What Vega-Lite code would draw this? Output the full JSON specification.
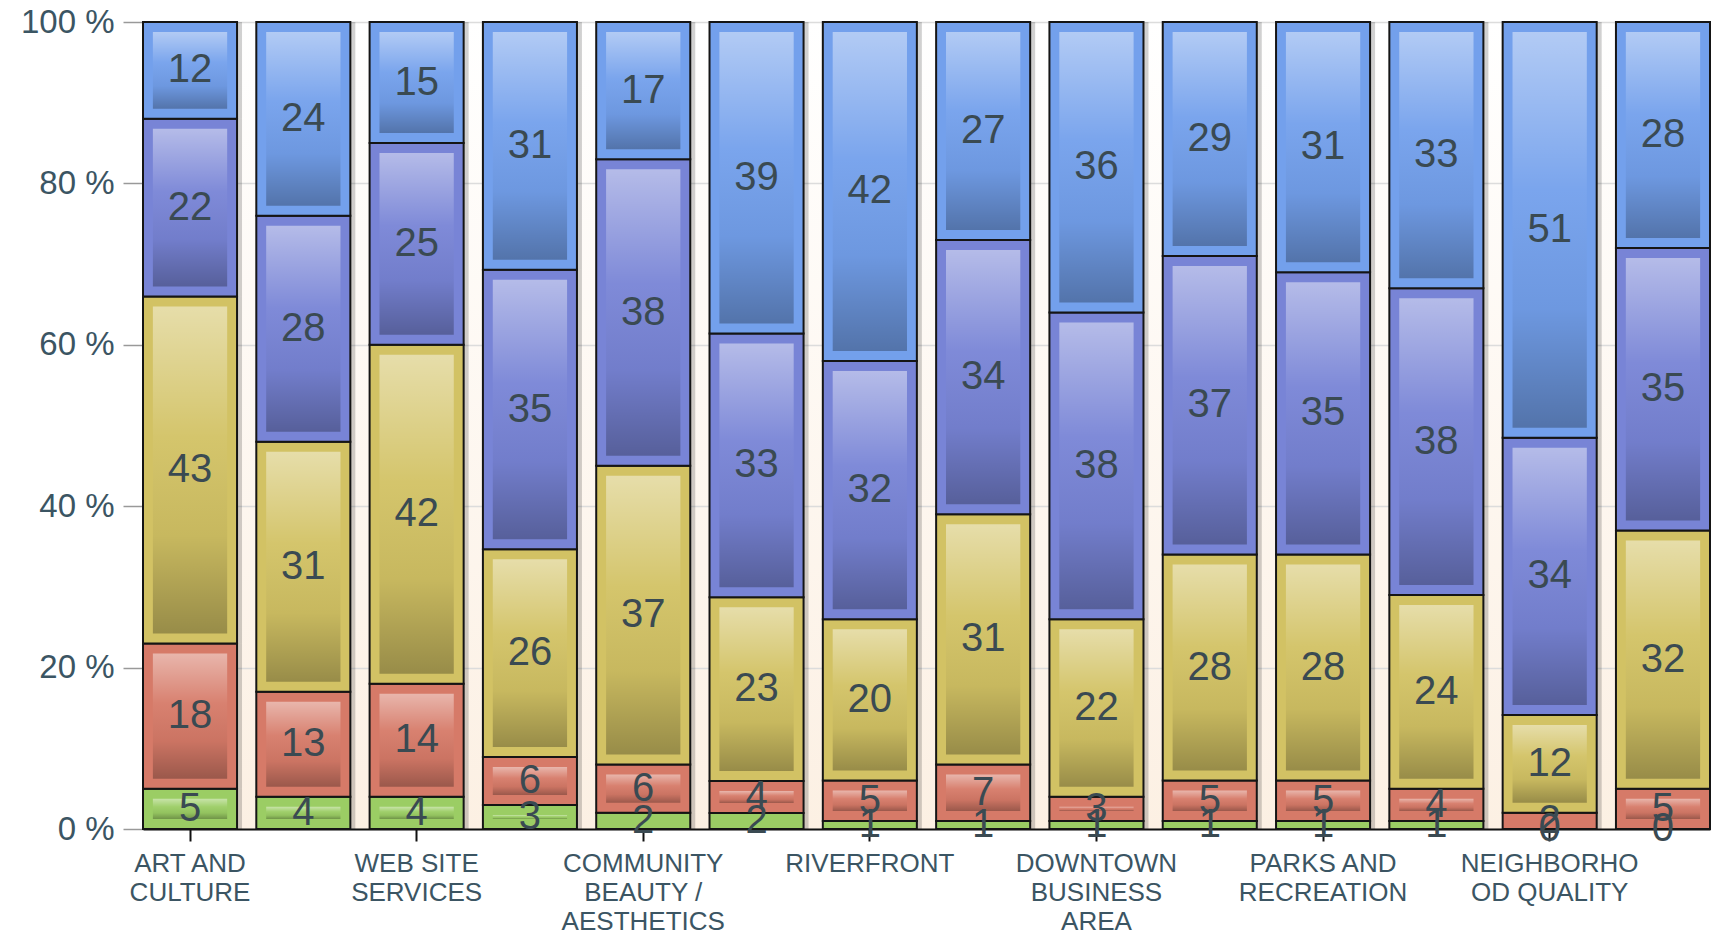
{
  "$schema": "https://vega.github.io/schema/vega-lite/v6.json",
  "autosize": "none",
  "width": 1567,
  "height": 807,
  "padding": {"left": 143, "top": 22, "right": 1, "bottom": 111},
  "background": "#ffffff",
  "config": {
    "view": {"stroke": null, "fill": {"gradient": "linear", "x1": 0, "y1": 0, "x2": 0, "y2": 1, "stops": [{"offset": 0, "color": "#ffffff"}, {"offset": 1, "color": "#fcf0e3"}]}},
    "font": "Liberation Sans"
  },
  "data": {
    "values": [
      {"cat": "ART AND|CULTURE", "s": "Very Poor", "o": 1, "v": 5},
      {"cat": "ART AND|CULTURE", "s": "Poor", "o": 2, "v": 18},
      {"cat": "ART AND|CULTURE", "s": "Fair", "o": 3, "v": 43},
      {"cat": "ART AND|CULTURE", "s": "Good", "o": 4, "v": 22},
      {"cat": "ART AND|CULTURE", "s": "Excellent", "o": 5, "v": 12},
      {"cat": "LIBRARY|SERVICES", "s": "Very Poor", "o": 1, "v": 4},
      {"cat": "LIBRARY|SERVICES", "s": "Poor", "o": 2, "v": 13},
      {"cat": "LIBRARY|SERVICES", "s": "Fair", "o": 3, "v": 31},
      {"cat": "LIBRARY|SERVICES", "s": "Good", "o": 4, "v": 28},
      {"cat": "LIBRARY|SERVICES", "s": "Excellent", "o": 5, "v": 24},
      {"cat": "WEB SITE|SERVICES", "s": "Very Poor", "o": 1, "v": 4},
      {"cat": "WEB SITE|SERVICES", "s": "Poor", "o": 2, "v": 14},
      {"cat": "WEB SITE|SERVICES", "s": "Fair", "o": 3, "v": 42},
      {"cat": "WEB SITE|SERVICES", "s": "Good", "o": 4, "v": 25},
      {"cat": "WEB SITE|SERVICES", "s": "Excellent", "o": 5, "v": 15},
      {"cat": "PUBLIC|SAFETY", "s": "Very Poor", "o": 1, "v": 3},
      {"cat": "PUBLIC|SAFETY", "s": "Poor", "o": 2, "v": 6},
      {"cat": "PUBLIC|SAFETY", "s": "Fair", "o": 3, "v": 26},
      {"cat": "PUBLIC|SAFETY", "s": "Good", "o": 4, "v": 35},
      {"cat": "PUBLIC|SAFETY", "s": "Excellent", "o": 5, "v": 31},
      {"cat": "COMMUNITY|BEAUTY /|AESTHETICS", "s": "Very Poor", "o": 1, "v": 2},
      {"cat": "COMMUNITY|BEAUTY /|AESTHETICS", "s": "Poor", "o": 2, "v": 6},
      {"cat": "COMMUNITY|BEAUTY /|AESTHETICS", "s": "Fair", "o": 3, "v": 37},
      {"cat": "COMMUNITY|BEAUTY /|AESTHETICS", "s": "Good", "o": 4, "v": 38},
      {"cat": "COMMUNITY|BEAUTY /|AESTHETICS", "s": "Excellent", "o": 5, "v": 17},
      {"cat": "STREETS AND|SIDEWALKS", "s": "Very Poor", "o": 1, "v": 2},
      {"cat": "STREETS AND|SIDEWALKS", "s": "Poor", "o": 2, "v": 4},
      {"cat": "STREETS AND|SIDEWALKS", "s": "Fair", "o": 3, "v": 23},
      {"cat": "STREETS AND|SIDEWALKS", "s": "Good", "o": 4, "v": 33},
      {"cat": "STREETS AND|SIDEWALKS", "s": "Excellent", "o": 5, "v": 39},
      {"cat": "RIVERFRONT", "s": "Very Poor", "o": 1, "v": 1},
      {"cat": "RIVERFRONT", "s": "Poor", "o": 2, "v": 5},
      {"cat": "RIVERFRONT", "s": "Fair", "o": 3, "v": 20},
      {"cat": "RIVERFRONT", "s": "Good", "o": 4, "v": 32},
      {"cat": "RIVERFRONT", "s": "Excellent", "o": 5, "v": 42},
      {"cat": "CUSTOMER|SERVICE", "s": "Very Poor", "o": 1, "v": 1},
      {"cat": "CUSTOMER|SERVICE", "s": "Poor", "o": 2, "v": 7},
      {"cat": "CUSTOMER|SERVICE", "s": "Fair", "o": 3, "v": 31},
      {"cat": "CUSTOMER|SERVICE", "s": "Good", "o": 4, "v": 34},
      {"cat": "CUSTOMER|SERVICE", "s": "Excellent", "o": 5, "v": 27},
      {"cat": "DOWNTOWN|BUSINESS|AREA", "s": "Very Poor", "o": 1, "v": 1},
      {"cat": "DOWNTOWN|BUSINESS|AREA", "s": "Poor", "o": 2, "v": 3},
      {"cat": "DOWNTOWN|BUSINESS|AREA", "s": "Fair", "o": 3, "v": 22},
      {"cat": "DOWNTOWN|BUSINESS|AREA", "s": "Good", "o": 4, "v": 38},
      {"cat": "DOWNTOWN|BUSINESS|AREA", "s": "Excellent", "o": 5, "v": 36},
      {"cat": "PUBLIC|TRANSIT", "s": "Very Poor", "o": 1, "v": 1},
      {"cat": "PUBLIC|TRANSIT", "s": "Poor", "o": 2, "v": 5},
      {"cat": "PUBLIC|TRANSIT", "s": "Fair", "o": 3, "v": 28},
      {"cat": "PUBLIC|TRANSIT", "s": "Good", "o": 4, "v": 37},
      {"cat": "PUBLIC|TRANSIT", "s": "Excellent", "o": 5, "v": 29},
      {"cat": "PARKS AND|RECREATION", "s": "Very Poor", "o": 1, "v": 1},
      {"cat": "PARKS AND|RECREATION", "s": "Poor", "o": 2, "v": 5},
      {"cat": "PARKS AND|RECREATION", "s": "Fair", "o": 3, "v": 28},
      {"cat": "PARKS AND|RECREATION", "s": "Good", "o": 4, "v": 35},
      {"cat": "PARKS AND|RECREATION", "s": "Excellent", "o": 5, "v": 31},
      {"cat": "CODE|ENFORCEMENT", "s": "Very Poor", "o": 1, "v": 1},
      {"cat": "CODE|ENFORCEMENT", "s": "Poor", "o": 2, "v": 4},
      {"cat": "CODE|ENFORCEMENT", "s": "Fair", "o": 3, "v": 24},
      {"cat": "CODE|ENFORCEMENT", "s": "Good", "o": 4, "v": 38},
      {"cat": "CODE|ENFORCEMENT", "s": "Excellent", "o": 5, "v": 33},
      {"cat": "NEIGHBORHO|OD QUALITY", "s": "Very Poor", "o": 1, "v": 0},
      {"cat": "NEIGHBORHO|OD QUALITY", "s": "Poor", "o": 2, "v": 2},
      {"cat": "NEIGHBORHO|OD QUALITY", "s": "Fair", "o": 3, "v": 12},
      {"cat": "NEIGHBORHO|OD QUALITY", "s": "Good", "o": 4, "v": 34},
      {"cat": "NEIGHBORHO|OD QUALITY", "s": "Excellent", "o": 5, "v": 51},
      {"cat": "UTILITIES", "s": "Very Poor", "o": 1, "v": 0},
      {"cat": "UTILITIES", "s": "Poor", "o": 2, "v": 5},
      {"cat": "UTILITIES", "s": "Fair", "o": 3, "v": 32},
      {"cat": "UTILITIES", "s": "Good", "o": 4, "v": 35},
      {"cat": "UTILITIES", "s": "Excellent", "o": 5, "v": 28}
    ]
  },
  "transform": [
    {"stack": "v", "groupby": ["cat"], "sort": [{"field": "o", "order": "ascending"}], "offset": "normalize", "as": ["y0", "y1"]},
    {"calculate": "(datum.y0 + datum.y1) / 2", "as": "ymid"}
  ],
  "encoding": {
    "x": {
      "field": "cat", "type": "nominal", "sort": null,
      "scale": {"paddingInner": 0.17, "paddingOuter": 0},
      "axis": {
        "title": null,
        "values": ["ART AND|CULTURE", "WEB SITE|SERVICES", "COMMUNITY|BEAUTY /|AESTHETICS", "RIVERFRONT", "DOWNTOWN|BUSINESS|AREA", "PARKS AND|RECREATION", "NEIGHBORHO|OD QUALITY"],
        "labelExpr": "split(datum.label, '|')",
        "labelAngle": 0,
        "labelFontSize": 26,
        "labelLineHeight": 29,
        "labelColor": "#3b5563",
        "labelFont": "Liberation Sans",
        "labelPadding": 9,
        "tickSize": 12,
        "tickColor": "#111111",
        "tickWidth": 2,
        "domainColor": "#111111",
        "domainWidth": 2,
        "grid": false,
        "labelOverlap": false,
        "labelBound": false
      }
    }
  },
  "layer": [
    {
      "mark": {"type": "bar", "color": "#000000", "opacity": 0.18, "xOffset": 5},
      "encoding": {
        "y": {"field": "y1", "type": "quantitative"},
        "y2": {"field": "y0"}
      }
    },
    {
      "mark": {"type": "bar", "stroke": "#151515", "strokeWidth": 2},
      "encoding": {
        "y": {
          "field": "y1", "type": "quantitative",
          "scale": {"domain": [0, 1], "nice": false},
          "axis": {
            "title": null,
            "values": [0, 0.2, 0.4, 0.6, 0.8, 1],
            "labelExpr": "round(datum.value * 100) + ' %'",
            "labelFontSize": 33,
            "labelColor": "#3b5563",
            "labelFont": "Liberation Sans",
            "labelPadding": 9,
            "tickSize": 20,
            "tickColor": "#999999",
            "tickWidth": 1.5,
            "domain": false,
            "grid": true,
            "gridColor": "#dcdcdc",
            "gridWidth": 1.5
          }
        },
        "y2": {"field": "y0"},
        "color": {
          "field": "s", "type": "nominal", "legend": null,
          "scale": {
            "domain": ["Very Poor", "Poor", "Fair", "Good", "Excellent"],
            "range": ["#9bcd64", "#d67a68", "#d2c264", "#7884d6", "#73a0ec"]
          }
        }
      }
    },
    {
      "mark": {
        "type": "bar",
        "width": {"band": 0.79},
        "yOffset": 10,
        "y2Offset": -10,
        "color": {
          "gradient": "linear", "x1": 0, "y1": 0, "x2": 0, "y2": 1,
          "stops": [
            {"offset": 0, "color": "rgba(255,255,255,0.45)"},
            {"offset": 0.4, "color": "rgba(255,255,255,0.05)"},
            {"offset": 0.7, "color": "rgba(0,0,0,0.05)"},
            {"offset": 1, "color": "rgba(0,0,0,0.28)"}
          ]
        }
      },
      "encoding": {
        "y": {"field": "y1", "type": "quantitative"},
        "y2": {"field": "y0"},
        "opacity": {"condition": {"test": "datum.v < 3", "value": 0}, "value": 1}
      }
    },
    {
      "mark": {"type": "text", "fontSize": 40, "color": "#3a4a52", "font": "Liberation Sans", "baseline": "middle", "align": "center"},
      "encoding": {
        "y": {"field": "ymid", "type": "quantitative"},
        "text": {"field": "v", "type": "quantitative"}
      }
    }
  ]
}
